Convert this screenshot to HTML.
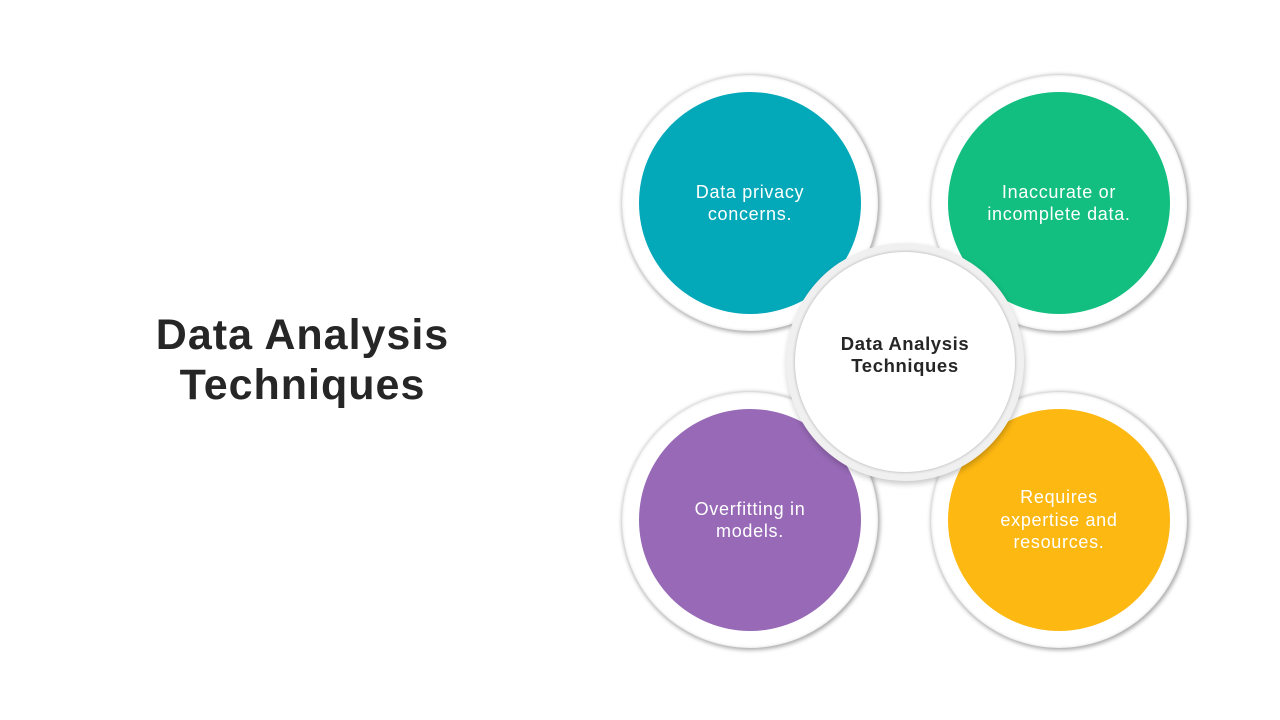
<!DOCTYPE html>
<html><head><style>
body{margin:0;width:1280px;height:720px;background:#fff;position:relative;overflow:hidden;font-family:"Liberation Sans",sans-serif}
.o{position:absolute;width:256px;height:256px;border-radius:50%;background:#fff;box-shadow:1px 1px 4px 1px rgba(0,0,0,.35),inset 0 0 3px rgba(0,0,0,.15)}
.i{position:absolute;width:222px;height:222px;border-radius:50%;display:flex;align-items:center;justify-content:center;text-align:center;color:#fff;font-size:18px;letter-spacing:0.7px;line-height:22.5px}
.title{position:absolute;left:100px;top:310px;width:405px;text-align:center;font-weight:bold;font-size:43px;letter-spacing:1px;line-height:50px;color:#262626}
</style></head><body>
<div class="title">Data Analysis<br>Techniques</div>
<div class="o" style="left:622px;top:75px"></div>
<div class="o" style="left:931px;top:75px"></div>
<div class="o" style="left:622px;top:392px"></div>
<div class="o" style="left:931px;top:392px"></div>
<div class="i" style="left:639px;top:92px;background:#03a8b9">Data privacy<br>concerns.</div>
<div class="i" style="left:948px;top:92px;background:#12bf80">Inaccurate or<br>incomplete data.</div>
<div class="i" style="left:639px;top:409px;background:#9769b6">Overfitting in<br>models.</div>
<div class="i" style="left:948px;top:409px;background:#fdb812">Requires<br>expertise and<br>resources.</div>
<div style="position:absolute;left:786px;top:243px;width:238px;height:238px;border-radius:50%;background:#f0f0f0;box-shadow:1px 3px 6px rgba(0,0,0,.22)"></div>
<div style="position:absolute;left:795px;top:252px;width:220px;height:220px;border-radius:50%;background:#fff;box-shadow:0 0 3px rgba(0,0,0,.3)"></div>
<div style="position:absolute;left:795px;top:333px;width:220px;text-align:center;font-weight:bold;font-size:18.5px;letter-spacing:0.6px;line-height:22px;color:#262626">Data Analysis<br>Techniques</div>
</body></html>
